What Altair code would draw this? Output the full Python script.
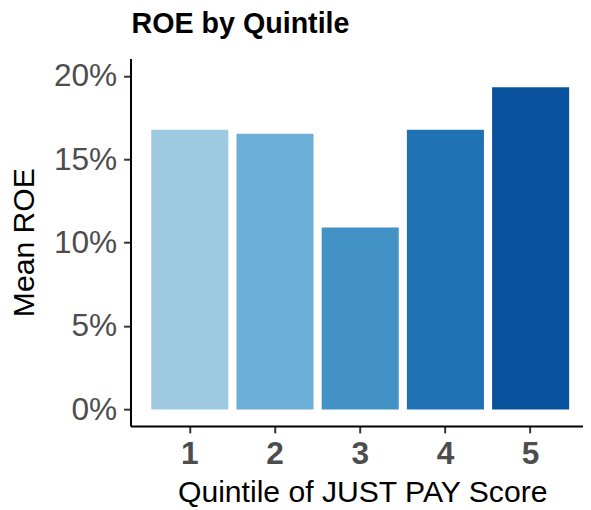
import altair as alt
import pandas as pd

quintiles = ["1", "2", "3", "4", "5"]
mean_roe = [0.1676, 0.1653, 0.1090, 0.1676, 0.1931]
colors = ["#9ECAE1", "#6BAED6", "#4292C6", "#2171B5", "#08519C"]
y_ticks = [0, 0.05, 0.10, 0.15, 0.20]

df = pd.DataFrame({"q": quintiles, "roe": mean_roe})

FONT = "Liberation Sans"

chart = (
    alt.Chart(df)
    .mark_bar()
    .encode(
        x=alt.X(
            "q:N",
            sort=quintiles,
            scale=alt.Scale(paddingInner=0.0957, paddingOuter=0.203, align=0.6),
            axis=alt.Axis(
                title="Quintile of JUST PAY Score",
                labelAngle=0,
                labelFont=FONT,
                labelFontSize=32,
                labelFontWeight="bold",
                labelColor="#4D4D4D",
                labelBaseline="alphabetic",
                labelPadding=31,
                tickSize=7,
                tickWidth=2,
                tickColor="#333333",
                domainColor="black",
                domainWidth=2,
                grid=False,
                titleFont=FONT,
                titleFontSize=30.5,
                titleFontWeight="normal",
                titleColor="black",
                titleBaseline="alphabetic",
                titleX=234.5,
                titleY=76,
                titleAlign="center",
            ),
        ),
        y=alt.Y(
            "roe:Q",
            scale=alt.Scale(domain=[-0.0099, 0.2104], nice=False, zero=False),
            axis=alt.Axis(
                title="Mean ROE",
                values=y_ticks,
                format=".0%",
                grid=False,
                labelFont=FONT,
                labelFontSize=32,
                labelColor="#4D4D4D",
                labelPadding=7,
                tickSize=7,
                tickWidth=2,
                tickColor="#333333",
                domainColor="black",
                domainWidth=2,
                titleFont=FONT,
                titleFontSize=30.5,
                titleFontWeight="normal",
                titleColor="black",
                titleBaseline="alphabetic",
                titleAngle=270,
                titleX=-98,
                titleY=186,
                titleAlign="center",
            ),
        ),
        color=alt.Color(
            "q:N", scale=alt.Scale(domain=quintiles, range=colors), legend=None
        ),
    )
    .properties(
        width=458,
        height=372,
        background="white",
        title=alt.TitleParams(
            "ROE by Quintile",
            anchor="start",
            frame="group",
            font=FONT,
            fontSize=29,
            fontWeight="bold",
            color="black",
            offset=20,
            dx=1,
        ),
        autosize=alt.AutoSizeParams(type="none"),
        padding={"left": 124, "top": 48, "right": 0, "bottom": 82},
    )
    .configure_view(strokeWidth=0, stroke="transparent")
)

chart.save("out.html", embed_options={"renderer": "svg", "actions": False})
